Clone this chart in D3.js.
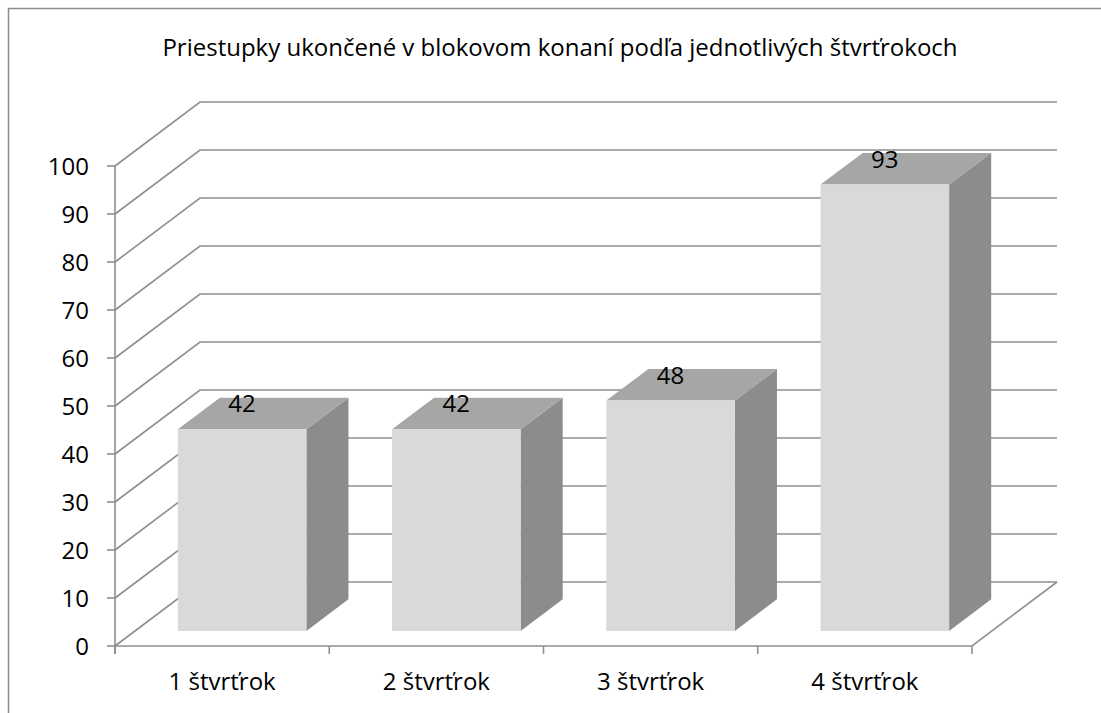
<!DOCTYPE html>
<html>
<head>
<meta charset="utf-8">
<script src="https://cdn.jsdelivr.net/npm/d3@7/dist/d3.min.js"></script>
<style>
  html, body { margin: 0; padding: 0; background: #fff; }
  svg { display: block; font-family: "Open Sans", "DejaVu Sans", sans-serif; }
</style>
</head>
<body>
<svg id="chart" width="1101" height="713"></svg>
<script>
const title = "Priestupky ukončené v blokovom konaní podľa jednotlivých štvrťrokoch";
const categories = ["1 štvrťrok", "2 štvrťrok", "3 štvrťrok", "4 štvrťrok"];
const values = [42, 42, 48, 93];
const yTicks = [0, 10, 20, 30, 40, 50, 60, 70, 80, 90, 100];

const svg = d3.select("#chart");
const W = 1101, H = 713;
const FS = 24;

// frame
svg.append("path")
  .attr("d", `M8.5,${H + 2} V8.5 H${W + 2}`)
  .attr("fill", "none").attr("stroke", "#8c8c8c").attr("stroke-width", 1.5);

// 3D projection parameters
const DX = 85, DY = -64;
const x = d3.scaleBand().domain(categories).range([115, 972]).paddingInner(0.4).paddingOuter(0.2);
const y = d3.scaleLinear().domain([0, 100]).range([646, 166]);
const x0 = 115, x1 = 972;
const P = (px, v, t) => [px + DX * t, y(v) + DY * t];

const gridColor = "#8e8e8e";
const g = svg.append("g");

// back wall gridlines + left wall diagonals
yTicks.forEach(v => {
  const a = P(x0, v, 0), b = P(x0, v, 1), c = P(x1, v, 1);
  g.append("path")
    .attr("d", `M${a[0]},${a[1]} L${b[0]},${b[1]} L${c[0]},${c[1]}`)
    .attr("fill", "none").attr("stroke", gridColor).attr("stroke-width", 1.6);
});

// floor right edge and front edge
{
  const a = P(x0, 0, 0), b = P(x1, 0, 0), c = P(x1, 0, 1);
  g.append("path").attr("d", `M${a[0]},${a[1]} L${b[0]},${b[1]} L${c[0]},${c[1]}`)
    .attr("fill", "none").attr("stroke", gridColor).attr("stroke-width", 1.6);
}

// vertical axis line
g.append("line").attr("x1", x0).attr("x2", x0).attr("y1", y(100)).attr("y2", y(0) + 8)
  .attr("stroke", gridColor).attr("stroke-width", 1.6);

// y ticks and labels
yTicks.forEach(v => {
  g.append("line").attr("x1", x0 - 8).attr("x2", x0).attr("y1", y(v)).attr("y2", y(v))
    .attr("stroke", gridColor).attr("stroke-width", 1.6);
  g.append("text").attr("x", 89).attr("y", y(v)).attr("dy", "0.36em")
    .attr("text-anchor", "end").attr("font-size", FS).attr("fill", "#000").text(v);
});

// x ticks
const step = x.step();
d3.range(categories.length + 1).forEach(i => {
  const px = x0 + i * step;
  g.append("line").attr("x1", px).attr("x2", px).attr("y1", y(0)).attr("y2", y(0) + 8)
    .attr("stroke", gridColor).attr("stroke-width", 1.6);
});

// x labels
categories.forEach(c => {
  g.append("text").attr("x", x(c) + x.bandwidth() / 2).attr("y", 690)
    .attr("text-anchor", "middle").attr("font-size", FS).attr("fill", "#000").text(c);
});

// bars
const T0 = 0.235, T1 = 0.73;
const bars = svg.append("g");
categories.forEach((c, i) => {
  const v = values[i];
  const xl = x(c), xr = x(c) + x.bandwidth();
  const fbl = P(xl, 0, T0), fbr = P(xr, 0, T0), ftl = P(xl, v, T0), ftr = P(xr, v, T0);
  const bbr = P(xr, 0, T1), btl = P(xl, v, T1), btr = P(xr, v, T1);
  const pts = a => a.map(p => p.join(",")).join(" ");
  bars.append("polygon").attr("points", pts([fbr, bbr, btr, ftr])).attr("fill", "#8c8c8c");
  bars.append("polygon").attr("points", pts([ftl, ftr, btr, btl])).attr("fill", "#a6a6a6");
  bars.append("polygon").attr("points", pts([fbl, fbr, ftr, ftl])).attr("fill", "#d9d9d9");
  bars.append("text").attr("x", (ftl[0] + ftr[0]) / 2).attr("y", ftl[1] - 17)
    .attr("text-anchor", "middle").attr("font-size", FS).attr("fill", "#000").text(v);
});

// title
svg.append("text").attr("x", 560).attr("y", 56).attr("text-anchor", "middle")
  .attr("font-size", FS).attr("fill", "#000").text(title);
</script>
</body>
</html>
